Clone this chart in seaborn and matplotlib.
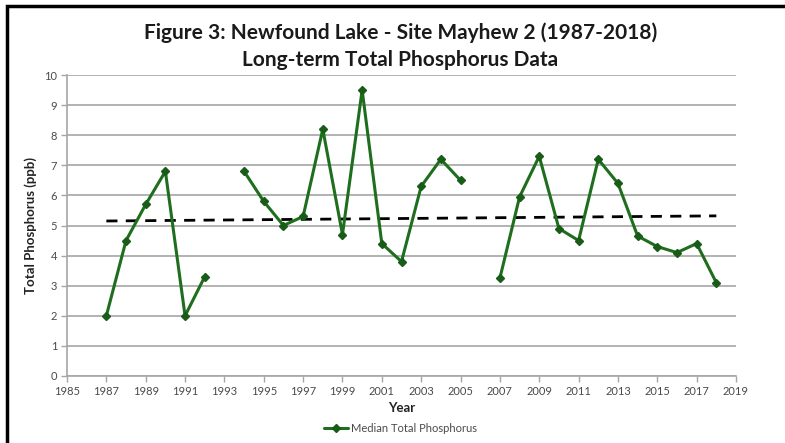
import numpy as np
import pandas as pd
import seaborn as sns
import matplotlib.pyplot as plt
from matplotlib.patches import Rectangle

# median total phosphorus by year (ppb); NaN = no sample that year
years = list(range(1987, 2019))
median_tp = [2.0, 4.5, 5.7, 6.8, 2.0, 3.3, np.nan, 6.8, 5.8, 5.0,
             5.3, 8.2, 4.7, 9.5, 4.4, 3.8, 6.3, 7.2, 6.5, np.nan,
             3.25, 5.95, 7.3, 4.9, 4.5, 7.2, 6.4, 4.65, 4.3, 4.1,
             4.4, 3.1]
# linear trend line at its two ends
trend_years = [1987, 2018]
trend_tp = [5.15, 5.32]

x_ticks = list(range(1985, 2020, 2))
y_ticks = list(range(0, 11))

df = pd.DataFrame({'Year': years, 'TP': median_tp})
trend = pd.DataFrame({'Year': trend_years, 'TP': trend_tp})

sns.set_style('white')
plt.rcParams['font.family'] = ['Lato', 'DejaVu Sans']

fig = plt.figure(figsize=(7.85, 4.43), dpi=100)
ax = fig.add_axes([67 / 785, 1 - 376 / 443, (736 - 67) / 785, (376 - 75) / 443])

green = '#1e6e1e'
ax.plot(df['Year'], df['TP'], color=green, lw=2.2, marker='D', ms=4.5,
        mfc='#185c18', mec='#185c18', label='Median Total Phosphorus', zorder=3)
sns.lineplot(x='Year', y='TP', data=trend, ax=ax, color='black', lw=2,
             linestyle=(0, (4, 3)), legend=False, zorder=2)

ax.set_xlim(1985, 2019)
ax.set_ylim(0, 10)
ax.set_xticks(x_ticks)
ax.set_yticks(y_ticks)
ax.yaxis.grid(True, color='#a6a6a6', lw=1.2)
ax.xaxis.grid(False)
for s in ['top', 'right']:
    ax.spines[s].set_visible(False)
for s in ['left', 'bottom']:
    ax.spines[s].set_color('#a6a6a6')
    ax.spines[s].set_linewidth(1.2)
ax.tick_params(axis='both', which='major', direction='out', length=4,
               width=1, color='#a6a6a6', labelsize=8, labelcolor='#4a4a4a',
               left=True, bottom=True, pad=3)

ax.set_xlabel('Year', fontsize=9.5, fontweight='bold', color='#222222', labelpad=4)
ax.set_ylabel('Total Phosphorus (ppb)', fontsize=9.5, fontweight='bold',
              color='#222222', labelpad=5)

fig.text(0.51, 1 - 33 / 443, 'Figure 3: Newfound Lake - Site Mayhew 2 (1987-2018)',
         ha='center', va='center', fontsize=15, fontweight='bold', color='#1a1a1a')
fig.text(0.51, 1 - 60 / 443, 'Long-term Total Phosphorus Data',
         ha='center', va='center', fontsize=15, fontweight='bold', color='#1a1a1a')

leg = fig.legend(handles=[ax.lines[0]], loc='center', bbox_to_anchor=(0.51, 1 - 428 / 443),
                 frameon=False, fontsize=8, handlelength=2.2, handletextpad=0.2,
                 labelcolor='#4a4a4a')

# black frame round the whole picture
fig.patches.append(Rectangle((7 / 785, -0.05), 1.1, 1 - 6 / 443 + 0.05,
                             transform=fig.transFigure, fill=False,
                             edgecolor='black', lw=2.5))

fig.savefig('out.png', dpi=100)
